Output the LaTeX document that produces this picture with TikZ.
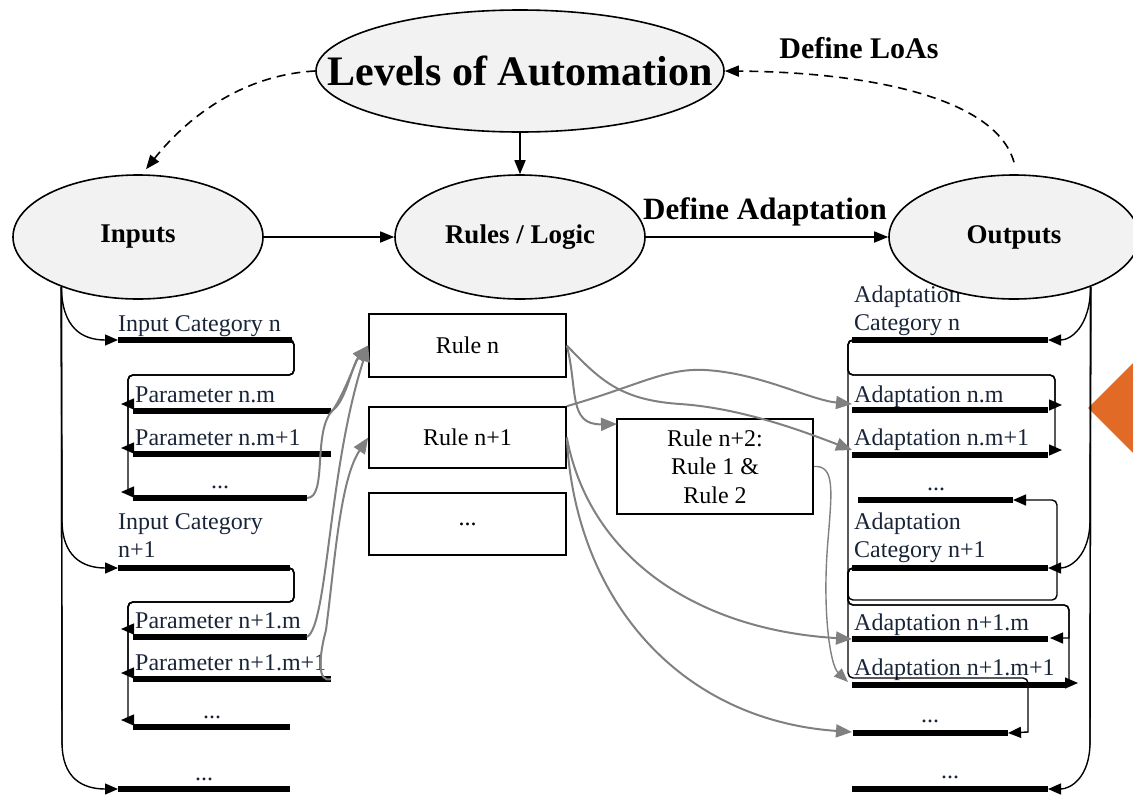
\documentclass[tikz,border=0pt]{standalone}
\usepackage{fontspec}
\setmainfont{Liberation Serif}
\usetikzlibrary{arrows.meta,shapes.geometric,calc}
\definecolor{ellfill}{RGB}{242,242,242}
\definecolor{navy}{RGB}{24,36,56}
\definecolor{conngray}{RGB}{128,128,128}
\definecolor{orng}{RGB}{224,106,38}
\begin{document}
\begin{tikzpicture}[x=1pt,y=-1pt,
  ell/.style={ellipse,draw,line width=1.6pt,fill=ellfill,inner sep=0pt,minimum width=250pt,minimum height=124pt,font=\bfseries\fontsize{27}{30}\selectfont},
  rulebox/.style={rectangle,draw,line width=1.6pt,fill=white,inner sep=0pt,minimum width=197pt,font=\fontsize{24}{28.5}\selectfont,align=center},
  lbl/.style={anchor=base west,inner sep=0pt,text=navy,font=\fontsize{24}{28}\selectfont},
  dots/.style={anchor=base,inner sep=0pt,text=navy,font=\fontsize{24}{28}\selectfont},
  bold/.style={inner sep=0pt,font=\bfseries\fontsize{30}{33}\selectfont},
  bar/.style={line width=6pt},
  thinline/.style={line width=1.4pt},
  blk/.style={line width=1.4pt,-{Triangle[length=13pt,width=11pt]}},
  main/.style={line width=1.6pt,-{Triangle[length=14pt,width=11pt]}},
  dsh/.style={main,dash pattern=on 9pt off 6pt},
  gry/.style={color=conngray,line width=2pt,-{Triangle[length=16pt,width=13pt]}},
  gryt/.style={color=conngray,line width=1.4pt,-{Triangle[length=14pt,width=11pt]}}]
\useasboundingbox (0,0) rectangle (1133,796);

% ---------- orange mark ----------
\fill[orng] (1088,408) -- (1140,356) -- (1192,408) -- (1140,460) -- cycle;

% ---------- input side coordinates ----------
\coordinate (ic1w) at (118,340); \coordinate (ic1e) at (292,340);
\coordinate (p1w) at (133,411);  \coordinate (p1e) at (331,411);
\coordinate (p2w) at (133,454);  \coordinate (p2e) at (331,454);
\coordinate (p3w) at (133,498);  \coordinate (p3e) at (307,498);
\coordinate (ic2w) at (118,568); \coordinate (ic2e) at (290,568);
\coordinate (q1w) at (133,637);  \coordinate (q1e) at (307,637);
\coordinate (q2w) at (133,679);  \coordinate (q2e) at (331,679);
\coordinate (q3w) at (133,727);  \coordinate (q3e) at (290,727);
\coordinate (ic3w) at (118,789); \coordinate (ic3e) at (290,789);
\coordinate (p1t) at (121,404); \coordinate (p2t) at (121,448); \coordinate (p3t) at (121,492);
\coordinate (q1t) at (121,629); \coordinate (q2t) at (121,673); \coordinate (q3t) at (121,720);

% ---------- output side coordinates ----------
\coordinate (oc1w) at (852,340); \coordinate (oc1e) at (1048,340);
\coordinate (a1w) at (852,410);  \coordinate (a1e) at (1048,410);
\coordinate (a2w) at (852,455);  \coordinate (a2e) at (1048,455);
\coordinate (a3w) at (858,500);  \coordinate (a3e) at (1013,500);
\coordinate (oc2w) at (852,568); \coordinate (oc2e) at (1048,568);
\coordinate (b1w) at (852,639);  \coordinate (b1e) at (1048,639);
\coordinate (b2w) at (852,685);  \coordinate (b2e) at (1066,685);
\coordinate (b3w) at (853,733);  \coordinate (b3e) at (1008,733);
\coordinate (oc3w) at (852,789); \coordinate (oc3e) at (1048,789);
\coordinate (a1t) at (852,404); \coordinate (a2t) at (852,450);
\coordinate (b1t) at (852,639); \coordinate (b2t) at (848,682); \coordinate (b3t) at (852,732);

% ---------- labels ----------
\node[lbl] (l1) at (118,331) {Input Category n};
\node[lbl] (l2) at (135,402) {Parameter n.m};
\node[lbl] (l3) at (135,445) {Parameter n.m+1};
\node[dots] (l4) at (220,488) {...};
\node[lbl] (l5) at (118,529) {Input Category};
\node[lbl] (l6) at (118,557) {n+1};
\node[lbl] (l7) at (135,628) {Parameter n+1.m};
\node[lbl] (l8) at (135,670) {Parameter n+1.m+1};
\node[dots] (l9) at (212,718) {...};
\node[dots] (l10) at (204,780) {...};

\node[lbl] (r1) at (854,302) {Adaptation};
\node[lbl] (r2) at (854,330) {Category n};
\node[lbl] (r3) at (854,402) {Adaptation n.m};
\node[lbl] (r4) at (854,445) {Adaptation n.m+1};
\node[dots] (r5) at (936,490) {...};
\node[lbl] (r6) at (854,529) {Adaptation};
\node[lbl] (r7) at (854,557) {Category n+1};
\node[lbl] (r8) at (854,630) {Adaptation n+1.m};
\node[lbl] (r9) at (854,675) {Adaptation n+1.m+1};
\node[dots] (r10) at (930,722) {...};
\node[dots] (r11) at (950,778) {...};

% ---------- ellipses ----------
\node[ell,minimum width=408pt,minimum height=122pt,font=\bfseries\fontsize{42}{44}\selectfont] (lev) at (520,71) {\makebox[0pt]{Levels of Automation}};
\node[ell] (inp) at (138,237) {Inputs};
\node[ell] (rul) at (520,237) {Rules / Logic};
\node[ell] (out) at (1014,237) {Outputs};

\node[bold] (loas) at (859,48) {Define LoAs};
\node[bold,font=\bfseries\fontsize{31}{34}\selectfont] (adap) at (765,212) {Define Adaptation};

% ---------- rule boxes ----------
\node[rulebox,minimum height=63pt] (rn) at (467.5,345.5) {Rule n};
\node[rulebox,minimum height=61pt] (rn1) at (467.5,437.5) {Rule n+1};
\node[rulebox,minimum height=62pt] (rnd) at (467.5,524) {...};
\node[rulebox,minimum width=196pt,minimum height=95pt] (rn2) at (715,466.5) {Rule n+2:\\Rule 1 \&\\Rule 2};
\coordinate (rn2t) at (617,424);

% ---------- main connectors ----------
\draw[main] (lev.south) -- (rul.north);
\draw[main] (inp.east) -- (rul.west);
\draw[main] (rul.east) -- (out.west);
\draw[dsh] (lev.west) .. controls (240,75) and (185,120) .. ($(inp.north)+(8,-5)$);
\draw[dsh] ($(out.north)+(0,-12)$) .. controls (995,95) and (860,72) .. (lev.east);

% ---------- bars ----------
\foreach \a/\b in {ic1w/ic1e,p1w/p1e,p2w/p2e,p3w/p3e,ic2w/ic2e,q1w/q1e,q2w/q2e,q3w/q3e,ic3w/ic3e,
                   oc1w/oc1e,a1w/a1e,a2w/a2e,a3w/a3e,oc2w/oc2e,b1w/b1e,b2w/b2e,b3w/b3e,oc3w/oc3e}
  \draw[bar] (\a) -- (\b);

% ---------- input side black connectors ----------
\draw[thinline] (inp.213) -- (62,745);
\draw[blk] (inp.213) .. controls (62,328) and (82,340) .. (ic1w);
\draw[blk] (inp.213) -- (62,520) .. controls (62,556) and (82,568) .. (ic2w);
\draw[blk] (inp.213) -- (62,742) .. controls (62,778) and (82,789) .. (ic3w);
\foreach \t/\y in {p1t/404,p2t/448,p3t/492}
  \draw[blk,rounded corners=5pt] (ic1e) -- (294,340) -- (294,375) -- (128,375) [sharp corners] -- (128,\y) -- (\t);
\foreach \t/\y in {q1t/629,q2t/673,q3t/720}
  \draw[blk,rounded corners=5pt] (ic2e) -- (294,568) -- (294,602) -- (128,602) [sharp corners] -- (128,\y) -- (\t);

% ---------- output side black connectors ----------
\draw[thinline] (out.327) -- (1090,745);
\draw[blk] (out.327) .. controls (1090,328) and (1070,340) .. (oc1e);
\draw[blk] (out.327) -- (1090,520) .. controls (1090,556) and (1070,568) .. (oc2e);
\draw[blk] (out.327) -- (1090,742) .. controls (1090,778) and (1070,789) .. (oc3e);
\draw[blk,rounded corners=5pt] (oc1w) -- (848,340) -- (848,375) -- (1055,375) [sharp corners] -- (1055,405) -- (1062,405);
\draw[blk,rounded corners=5pt] (oc1w) -- (848,340) -- (848,375) -- (1055,375) [sharp corners] -- (1055,450) -- (1062,450);
\draw[blk,rounded corners=5pt] (oc1w) -- (848,340) -- (848,600) -- (1057,600) -- (1057,500) -- (a3e);
\draw[blk,rounded corners=5pt] (oc2w) -- (848,568) -- (848,605) -- (1069,605) [sharp corners] -- (1069,638) -- (1050,638);
\draw[blk,rounded corners=5pt] (oc2w) -- (848,568) -- (848,605) -- (1069,605) [sharp corners] -- (1069,683) -- (1078,683);
\draw[blk,rounded corners=5pt] (oc2w) -- (848,568) -- (848,678) -- (1028,678) [sharp corners] -- (1028,732) -- (b3e);

% ---------- gray connectors: inputs to rules ----------
\draw[gry] (p1e) .. controls (345,405) and (352,365) .. (rn.west);
\draw[gry] (p3e) .. controls (328,498) and (312,430) .. (333,410) .. controls (345,392) and (355,362) .. (rn.west);
\draw[gry] (q1e) .. controls (328,625) and (328,470) .. (rn.west);
\draw[gry] (q2e) .. controls (318,683) and (318,660) .. (326,630) .. controls (335,560) and (340,480) .. (rn1.west);

% ---------- gray connectors: rules to outputs ----------
\draw[gry] (rn.east) .. controls (600,380) and (620,400) .. (680,404) .. controls (740,408) and (800,430) .. (a2t);
\draw[gry] (rn.east) .. controls (578,390) and (568,425) .. (rn2t);
\draw[gry] (rn1.north east) .. controls (640,385) and (665,368) .. (705,370) .. controls (760,373) and (810,400) .. (a1t);
\draw[gry] (rn1.east) .. controls (590,560) and (700,630) .. (b1t);
\draw[gry] (rn1.east) .. controls (575,600) and (680,720) .. (b3t);
\draw[gryt] (rn2.east) .. controls (835,465) and (832,490) .. (828,540) .. controls (822,610) and (830,665) .. (b2t);
\end{tikzpicture}
\end{document}
